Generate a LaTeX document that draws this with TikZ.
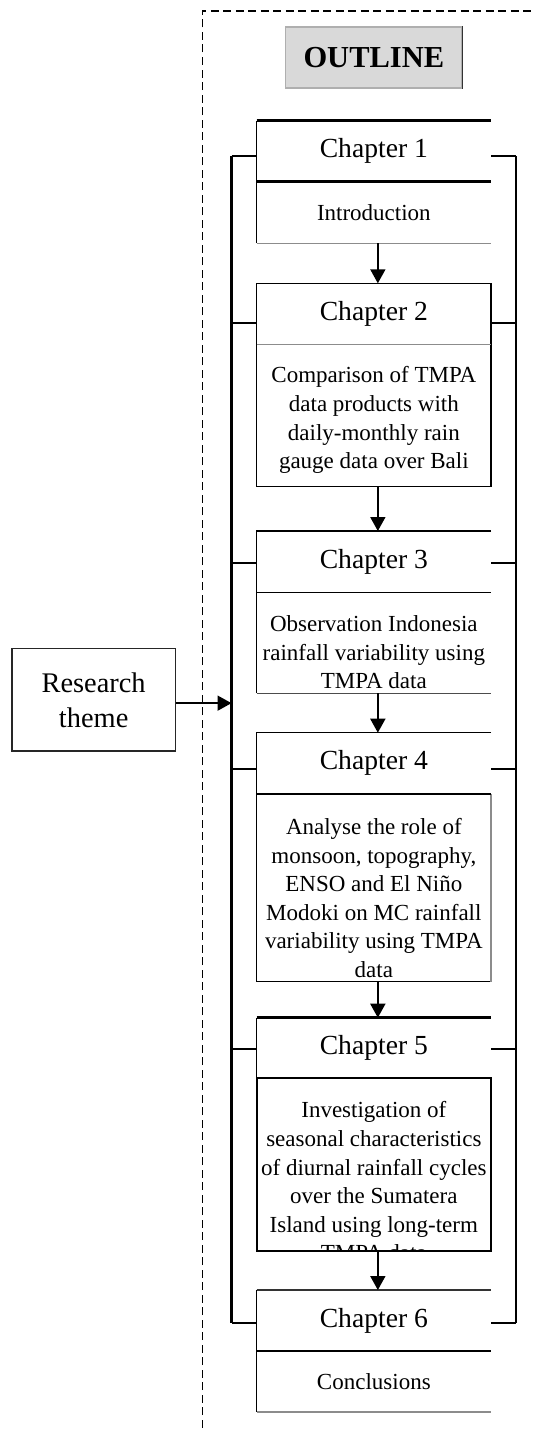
\documentclass[tikz,border=0pt]{standalone}
\usepackage{fontspec}
\setmainfont{Liberation Serif}
\usetikzlibrary{arrows.meta}
\definecolor{outlinefill}{HTML}{D9D9D9}
\definecolor{softgray}{HTML}{8C8C8C}
\begin{document}
\begin{tikzpicture}[x=1pt,y=-1pt,
  thinln/.style={line width=1.2pt,black},
  thickln/.style={line width=2.5pt,black},
  grayln/.style={line width=1.2pt,softgray},
  bracket/.style={line width=2.4pt,black},
  arr/.style={line width=1.8pt,-{Triangle[width=15pt,length=14pt]}},
  frameln/.style={line width=1.6pt,dash pattern=on 8pt off 4.5pt},
  hdr/.style={rectangle,minimum width=234.3pt,inner sep=0pt,outer sep=0pt,
    font=\fontsize{27.6}{33}\selectfont},
  bodybox/.style={rectangle,minimum width=234.3pt,inner sep=0pt,outer sep=0pt,
    font=\fontsize{23}{28.6}\selectfont},
  bodytxt/.style={align=center,anchor=north,inner sep=0pt,
    font=\fontsize{23}{28.6}\selectfont}]
\useasboundingbox (0,0) rectangle (533,1429);

% dashed frame
\draw[frameln] (202.3,1440) -- (202.3,11) -- (540,11);

% title
\node[rectangle,fill=outlinefill,draw=softgray!70,line width=1.2pt,
  minimum width=176.3pt,minimum height=61pt,inner sep=0pt,
  font=\bfseries\fontsize{30.5}{36}\selectfont] (title) at (373.85,57.5) {OUTLINE};
\draw[line width=1.2pt,black!80] (title.north east) -- (title.south east);

% chapter headers and bodies
\node[hdr,minimum height=61pt] (c1h) at (373.85,151.2) {Chapter 1};
\node[bodybox,minimum height=61.6pt] (c1b) at (373.85,212.5) {Introduction};

\node[hdr,minimum height=61pt] (c2h) at (373.85,313.8) {Chapter 2};
\node[bodybox,minimum height=142.4pt] (c2b) at (373.85,415.5) {};
\node[bodytxt] (t2) at (373.85,366.5) {Comparison of TMPA\\data products with\\daily-monthly rain\\gauge data over Bali};

\node[hdr,minimum height=61.3pt] (c3h) at (373.85,561.65) {Chapter 3};
\node[bodybox,minimum height=101pt] (c3b) at (373.85,642.8) {};
\node[bodytxt] (t3) at (373.85,615.3) {Observation Indonesia\\rainfall variability using\\TMPA data};

\node[hdr,minimum height=61.3pt] (c4h) at (373.85,763.35) {Chapter 4};
\node[bodybox,minimum height=187.7pt] (c4b) at (373.85,887.85) {};
\node[bodytxt] (t4) at (373.85,818) {Analyse the role of\\monsoon, topography,\\ENSO and El Niño\\Modoki on MC rainfall\\variability using TMPA\\data};

\node[hdr,minimum height=60.6pt] (c5h) at (373.85,1048) {Chapter 5};
\node[bodybox,minimum height=172.4pt] (c5b) at (373.85,1164.5) {};
\begin{scope}
  \clip (c5b.north west) rectangle (c5b.south east);
  \node[bodytxt] (t5) at (373.85,1101.5) {Investigation of\\seasonal characteristics\\of diurnal rainfall cycles\\over the Sumatera\\Island using long-term\\TMPA data};
\end{scope}

\node[hdr,minimum height=61pt] (c6h) at (373.85,1320.5) {Chapter 6};
\node[bodybox,minimum height=61pt] (c6b) at (373.85,1381.5) {Conclusions};

% box outlines
\draw[thickln] (c1h.north west) -- (c1h.north east);
\draw[thickln] (c1h.south west) -- (c1h.south east);
\draw[thinln] (c1h.north west) -- (c1b.south west);
\draw[grayln] (c1b.south west) -- (c1b.south east);

\draw[thinln] (c2h.north west) rectangle (c2b.south east);
\draw[grayln] (c2h.south west) -- (c2h.south east);

\draw[thinln] (c3h.north east) -- (c3h.north west) -- (c3b.south west);
\draw[thinln] (c3h.south west) -- (c3h.south east);
\draw[line width=1.2pt,black!70] (c3b.south west) -- (c3b.south east);

\draw[thinln] (c4h.north east) -- (c4h.north west) -- (c4b.south west) -- (c4b.south east);
\draw[grayln] (c4b.north east) -- (c4b.south east);
\draw[thickln] (c4h.south west) -- (c4h.south east);

\draw[thickln] (c5h.north west) -- (c5h.north east);
\draw[thinln] (c5h.north west) -- (c5h.south west);
\draw[line width=2pt] (c5b.north west) rectangle (c5b.south east);

\draw[line width=1.2pt,black!80] (c6h.north west) -- (c6h.north east);
\draw[thinln] (c6h.north west) -- (c6b.south west);
\draw[thinln] (c6h.south west) -- (c6h.south east);
\draw[grayln] (c6b.south west) -- (c6b.south east);

% flow arrows between chapters
\draw[arr] ([xshift=4pt]c1b.south) -- ([xshift=4pt]c2h.north);
\draw[arr] ([xshift=4pt]c2b.south) -- ([xshift=4pt]c3h.north);
\draw[arr] ([xshift=4pt]c3b.south) -- ([xshift=4pt]c4h.north);
\draw[arr] ([xshift=4pt]c4b.south) -- ([xshift=4pt]c5h.north);
\draw[arr] ([xshift=4pt]c5b.south) -- ([xshift=4pt]c6h.north);

% side brackets
\coordinate (lt) at (231.5,156);
\coordinate (lb) at (231.5,1323);
\coordinate (rtp) at (515.7,156);
\coordinate (rbt) at (515.7,1323);
\draw[bracket] (lt) -- (lb);
\draw[bracket] (rtp) -- (rbt);
\foreach \n/\yy in {c1h/156,c2h/323,c3h/563,c4h/769,c5h/1049,c6h/1323}{
  \draw[bracket] (231.5,\yy) -- (231.5,\yy -| \n.west);
  \draw[bracket] (\n.east |- 515.7,\yy) -- (515.7,\yy);
}

% research theme
\node[rectangle,draw=black!85,line width=1.2pt,minimum width=163.3pt,
  minimum height=102.3pt,inner sep=0pt,align=center,
  font=\fontsize{28.4}{35}\selectfont] (rt) at (93.65,699.85) {Research\\theme};
\coordinate (ra) at ([yshift=-3.3pt]rt.east);
\coordinate (rb) at (ra -| lt);
\draw[arr] (ra) -- (rb);
\end{tikzpicture}
\end{document}
